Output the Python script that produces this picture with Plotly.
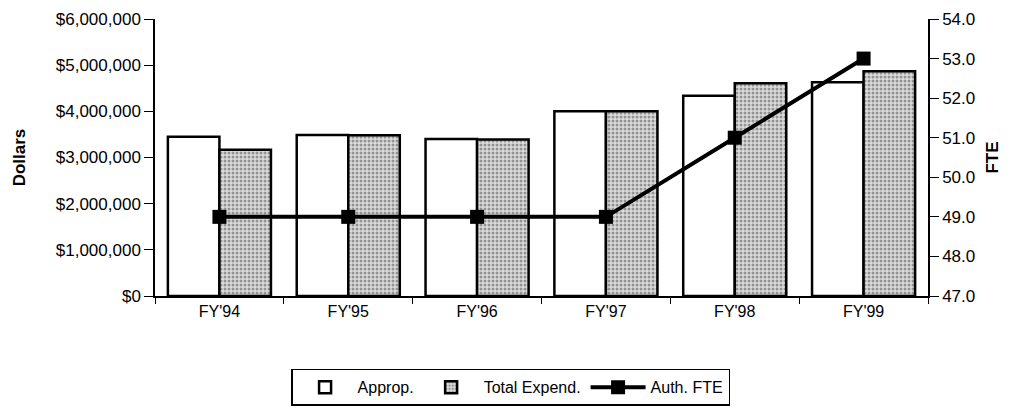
import plotly.graph_objects as go

categories = ["FY'94", "FY'95", "FY'96", "FY'97", "FY'98", "FY'99"]
approp = [3450000, 3490000, 3400000, 4000000, 4340000, 4630000]
total_expend = [3170000, 3480000, 3390000, 4000000, 4610000, 4870000]
auth_fte = [49, 49, 49, 49, 51, 53]

font_family = "Liberation Sans, Arial, sans-serif"

fig = go.Figure()
fig.add_trace(go.Bar(
    x=categories, y=approp, name="Approp.",
    marker=dict(color="white", line=dict(color="black", width=2.5)),
))
fig.add_trace(go.Bar(
    x=categories, y=total_expend, name="Total Expend.",
    marker=dict(color="#d0d0d0", line=dict(color="black", width=2.5),
                pattern=dict(shape=".", fgcolor="#4a4a4a", bgcolor="#dcdcdc",
                             size=4, solidity=0.45)),
))
fig.add_trace(go.Scatter(
    x=categories, y=auth_fte, name="Auth. FTE", yaxis="y2",
    mode="lines+markers",
    line=dict(color="black", width=4),
    marker=dict(symbol="square", size=14, color="black"),
))

fig.update_layout(
    width=1005, height=404,
    margin=dict(l=147, r=85, t=11, b=116, autoexpand=False),
    paper_bgcolor="white", plot_bgcolor="white",
    barmode="group", bargap=0.2, bargroupgap=0,
    font=dict(family=font_family, size=17, color="black"),
    showlegend=True,
    legend=dict(orientation="h", x=0.46, xanchor="center",
                yref="container", y=0.107, yanchor="top",
                bordercolor="black", borderwidth=1.5, font=dict(size=16),
                itemwidth=55, traceorder="normal", tracegroupgap=0),
    xaxis=dict(range=[-0.5, 5.5], showline=True, linecolor="black", linewidth=1.5,
               ticks="outside", tickson="boundaries", ticklen=6, tickcolor="black",
               showgrid=False, tickfont=dict(size=16), automargin=False),
    yaxis=dict(title=dict(text="<b>Dollars</b>", font=dict(size=17), standoff=26),
               range=[0, 6000000], dtick=1000000, tickprefix="$", tickformat=",",
               showline=True, linecolor="black", linewidth=1.5, automargin=False,
               ticks="outside", ticklen=9, tickcolor="black", showgrid=False, zeroline=False),
    yaxis2=dict(title=dict(text="<b>FTE</b>", font=dict(size=17), standoff=12),
                overlaying="y", side="right", range=[47, 54], dtick=1, tickformat=".1f",
                showline=True, linecolor="black", linewidth=1.5, automargin=False,
                ticks="outside", ticklen=9, tickcolor="black", showgrid=False, zeroline=False),
)

fig.write_html("out.html")
